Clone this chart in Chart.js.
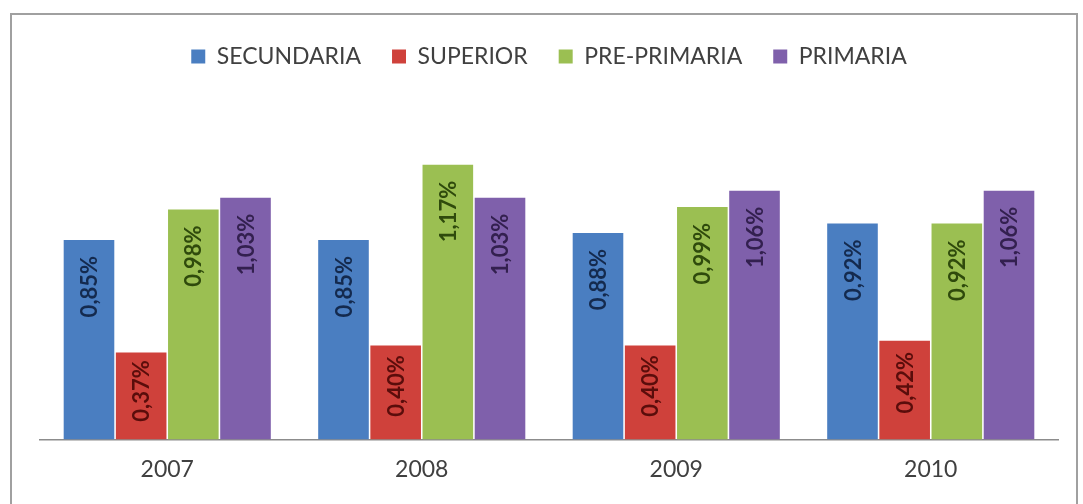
<!DOCTYPE html>
<html>
<head>
<meta charset="utf-8">
<script src="https://cdn.jsdelivr.net/npm/chart.js@4"></script>
<style>
  body { margin: 0; background: #fff; }
  #wrap { position: relative; width: 1083px; height: 504px; overflow: hidden; }
  #frame { position: absolute; left: 10px; top: 13px; width: 1068px; height: 520px; border: 2px solid #a0a0a0; box-sizing: border-box; }
  #gasto { position: absolute; left: 0; top: 0; }
</style>
</head>
<body>
<div id="wrap">
  <div id="frame"></div>
  <canvas id="gasto" width="1083" height="504"></canvas>
</div>
<script>
var years = ['2007', '2008', '2009', '2010'];
var secundaria = [0.85, 0.85, 0.88, 0.92];
var superior = [0.37, 0.40, 0.40, 0.42];
var prePrimaria = [0.98, 1.17, 0.99, 0.92];
var primaria = [1.03, 1.03, 1.06, 1.06];

var fontFamily = 'Lato, "Open Sans", sans-serif';

// etiquetas giradas dentro de cada barra
var barLabels = {
  id: 'barLabels',
  afterDatasetsDraw: function(chart) {
    var ctx = chart.ctx;
    ctx.save();
    ctx.font = 'bold 22px ' + fontFamily;
    ctx.textBaseline = 'middle';
    ctx.textAlign = 'right';
    chart.data.datasets.forEach(function(ds, i) {
      chart.getDatasetMeta(i).data.forEach(function(bar, j) {
        var txt = ds.data[j].toFixed(2).replace('.', ',') + '%';
        var len = ctx.measureText(txt).width;
        var h = bar.base - bar.y;
        var off = Math.min(16, (h - len) * 0.3);
        ctx.save();
        ctx.translate(bar.x, bar.y + off);
        ctx.rotate(-Math.PI / 2);
        ctx.fillStyle = ds.labelColor;
        ctx.fillText(txt, 0, 1);
        ctx.restore();
      });
    });
    ctx.restore();
  }
};

var ctx = document.getElementById('gasto');
var chart = new Chart(ctx, {
  type: 'bar',
  data: {
    labels: years,
    datasets: [
      { label: 'SECUNDARIA', data: secundaria, backgroundColor: '#4a7ec1', labelColor: '#142a4e' },
      { label: 'SUPERIOR', data: superior, backgroundColor: '#cf413b', labelColor: '#5a0d0b' },
      { label: 'PRE-PRIMARIA', data: prePrimaria, backgroundColor: '#9bbf52', labelColor: '#2f4a0c' },
      { label: 'PRIMARIA', data: primaria, backgroundColor: '#7f60ab', labelColor: '#33204f' }
    ]
  },
  options: {
    responsive: false,
    animation: false,
    categoryPercentage: 0.82,
    barPercentage: 0.97,
    layout: { padding: { left: 40, right: 25, top: 14, bottom: 5 } },
    plugins: {
      legend: {
        position: 'top',
        labels: {
          boxWidth: 14,
          boxHeight: 14,
          padding: 31,
          color: '#404040',
          font: { family: fontFamily, size: 23 }
        }
      },
      tooltip: { enabled: false }
    },
    scales: {
      x: {
        grid: { display: false, drawTicks: false },
        border: { display: true, color: '#8c8c8c', width: 1.5 },
        ticks: { color: '#404040', padding: 16, font: { family: fontFamily, size: 23 } }
      },
      y: {
        display: false,
        min: 0,
        max: 1.54
      }
    }
  },
  plugins: [barLabels]
});
</script>
</body>
</html>
